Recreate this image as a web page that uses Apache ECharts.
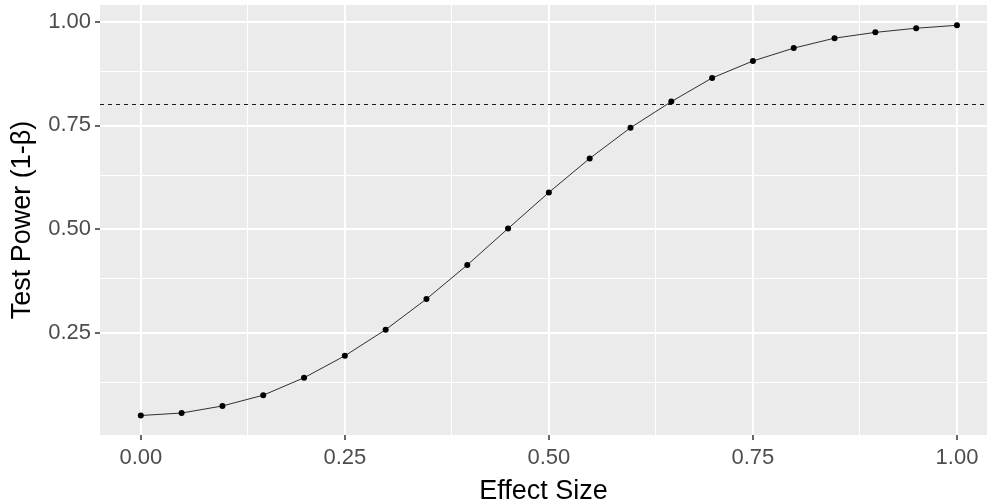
<!DOCTYPE html>
<html>
<head>
<meta charset="utf-8">
<script src="https://cdn.jsdelivr.net/npm/echarts@6/dist/echarts.min.js"></script>
<style>html,body{margin:0;padding:0;background:#fff;}#c{width:987px;height:502px;}</style>
</head>
<body>
<div id="c"></div>
<script>
const effectSize = [0.00,0.05,0.10,0.15,0.20,0.25,0.30,0.35,0.40,0.45,0.50,0.55,0.60,0.65,0.70,0.75,0.80,0.85,0.90,0.95,1.00];
const power = [0.050,0.056,0.073,0.099,0.141,0.194,0.257,0.331,0.413,0.501,0.588,0.670,0.744,0.807,0.864,0.905,0.936,0.960,0.974,0.984,0.991];
const targetPower = 0.80;
const xMajor = [0.00,0.25,0.50,0.75,1.00];
const xMinor = [0.125,0.375,0.625,0.875];
const yMajor = [0.25,0.50,0.75,1.00];
const yMinor = [0.125,0.375,0.625,0.875];

const chart = echarts.init(document.getElementById('c'), null, {renderer:'canvas'});
const FONT = "'Liberation Sans', Arial, sans-serif";
const gridLines = [];
xMinor.forEach(v => gridLines.push({xAxis:v, lineStyle:{width:1}}));
yMinor.forEach(v => gridLines.push({yAxis:v, lineStyle:{width:1}}));
xMajor.forEach(v => gridLines.push({xAxis:v, lineStyle:{width:2}}));
yMajor.forEach(v => gridLines.push({yAxis:v, lineStyle:{width:2}}));

chart.setOption({
  animation:false,
  backgroundColor:'#ffffff',
  grid:{left:100, right:0, top:5, bottom:67, show:true, backgroundColor:'#EBEBEB', borderWidth:0,
        containLabel:false, outerBoundsMode:'none'},
  xAxis:{
    type:'value', min:-0.05, max:1.0368,
    name:'Effect Size', nameLocation:'middle', nameGap:43,
    nameTextStyle:{fontFamily:FONT, fontSize:27, color:'#000'},
    axisLine:{show:true, onZero:false, lineStyle:{color:'rgba(0,0,0,0)', width:0}},
    axisTick:{show:true, inside:false, customValues:xMajor, length:5, lineStyle:{color:'#333333', width:1.5}},
    axisLabel:{customValues:xMajor, formatter:v=>v.toFixed(2), fontFamily:FONT, fontSize:22, color:'#4D4D4D', margin:12},
    splitLine:{show:false}
  },
  yAxis:{
    type:'value', min:0.003, max:1.04,
    name:'Test Power (1-β)', nameLocation:'middle', nameGap:64, nameRotate:90,
    nameTextStyle:{fontFamily:FONT, fontSize:27, color:'#000'},
    axisLine:{show:true, onZero:false, lineStyle:{color:'rgba(0,0,0,0)', width:0}},
    axisTick:{show:true, inside:false, customValues:yMajor, length:5, lineStyle:{color:'#333333', width:1.5}},
    axisLabel:{customValues:yMajor, formatter:v=>v.toFixed(2), fontFamily:FONT, fontSize:22, color:'#4D4D4D', margin:9},
    splitLine:{show:false}
  },
  series:[
    {
      type:'line', data:[], z:1, silent:true,
      markLine:{z:1, silent:true, symbol:'none', label:{show:false}, animation:false,
        lineStyle:{color:'#FFFFFF', type:'solid'}, data:gridLines}
    },
    {
      type:'line', z:3,
      data:effectSize.map((x,i)=>[x,power[i]]),
      symbol:'circle', symbolSize:6, showSymbol:true,
      itemStyle:{color:'#000000'},
      lineStyle:{color:'#1a1a1a', width:0.9},
      markLine:{z:2, silent:true, symbol:'none', label:{show:false}, animation:false,
        lineStyle:{color:'#1a1a1a', type:[4,4], width:1},
        data:[{yAxis:targetPower}]}
    }
  ]
});
</script>
</body>
</html>
